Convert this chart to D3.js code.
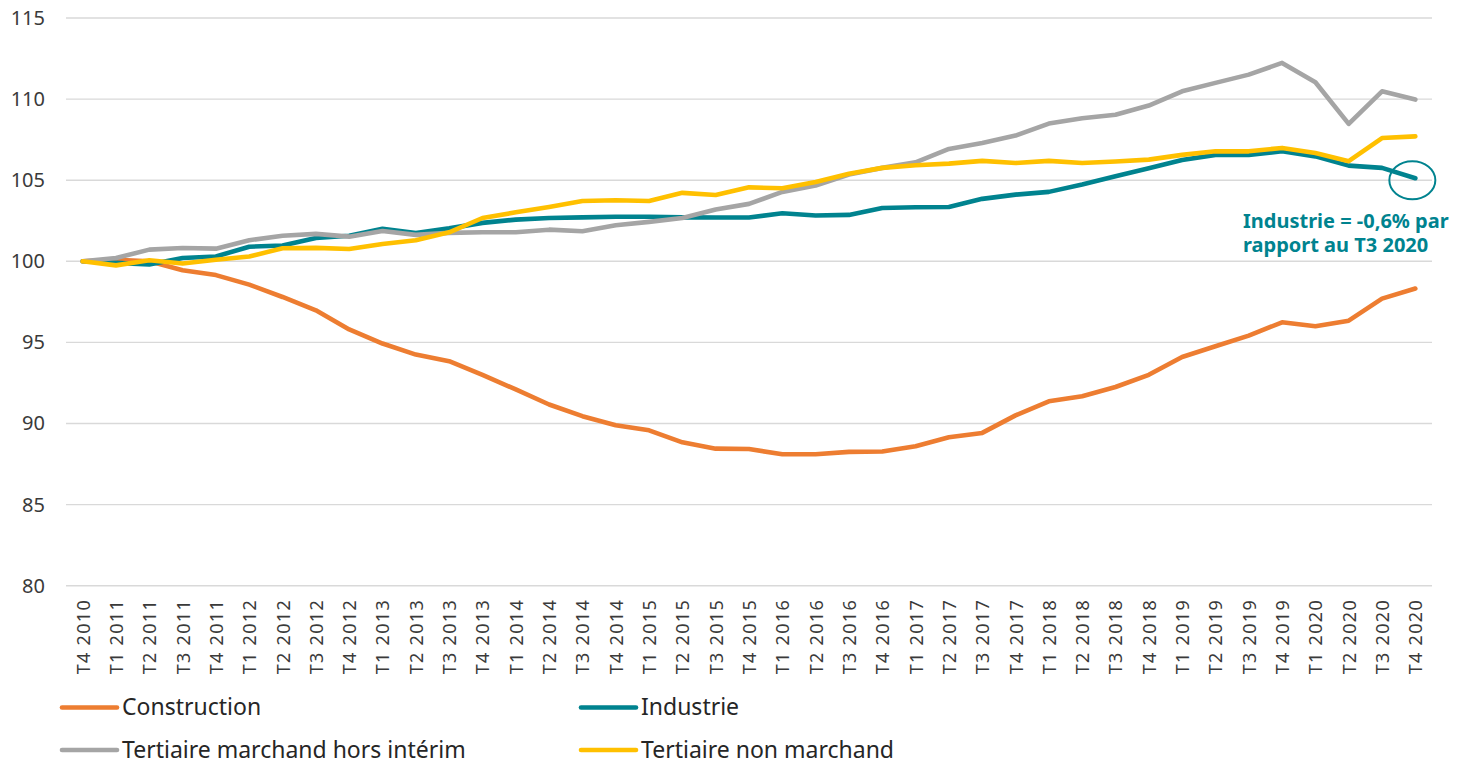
<!DOCTYPE html>
<html>
<head>
<meta charset="utf-8">
<script src="https://cdn.jsdelivr.net/npm/d3@7"></script>
<style>
  html, body { margin: 0; padding: 0; background: #ffffff; }
  svg { display: block; }
</style>
</head>
<body>
<svg id="chart" width="1460" height="765"></svg>
<script>
const categories = ["T4 2010",
  "T1 2011","T2 2011","T3 2011","T4 2011",
  "T1 2012","T2 2012","T3 2012","T4 2012",
  "T1 2013","T2 2013","T3 2013","T4 2013",
  "T1 2014","T2 2014","T3 2014","T4 2014",
  "T1 2015","T2 2015","T3 2015","T4 2015",
  "T1 2016","T2 2016","T3 2016","T4 2016",
  "T1 2017","T2 2017","T3 2017","T4 2017",
  "T1 2018","T2 2018","T3 2018","T4 2018",
  "T1 2019","T2 2019","T3 2019","T4 2019",
  "T1 2020","T2 2020","T3 2020","T4 2020"];

const construction = [100, 100.1, 100.0, 99.45, 99.15, 98.56, 97.8, 96.98, 95.8, 94.93, 94.25, 93.84, 93.0, 92.1, 91.17, 90.45, 89.89, 89.58, 88.84, 88.45, 88.43, 88.1, 88.1, 88.25, 88.27, 88.6, 89.15, 89.42, 90.5, 91.37, 91.68, 92.25, 93.0, 94.1, 94.76, 95.42, 96.24, 96.0, 96.34, 97.7, 98.32];
const industrie = [100, 99.9, 99.8, 100.2, 100.3, 100.9, 100.97, 101.44, 101.58, 102.0, 101.75, 102.03, 102.37, 102.57, 102.67, 102.71, 102.75, 102.75, 102.71, 102.7, 102.7, 102.96, 102.82, 102.86, 103.29, 103.33, 103.35, 103.85, 104.11, 104.28, 104.73, 105.24, 105.73, 106.25, 106.56, 106.56, 106.78, 106.47, 105.9, 105.76, 105.12];
const tertiaireMarchand = [100, 100.2, 100.72, 100.82, 100.78, 101.3, 101.58, 101.69, 101.52, 101.87, 101.63, 101.75, 101.79, 101.79, 101.95, 101.85, 102.22, 102.43, 102.67, 103.19, 103.54, 104.28, 104.67, 105.35, 105.76, 106.1, 106.93, 107.3, 107.75, 108.49, 108.82, 109.03, 109.6, 110.48, 111.0, 111.51, 112.23, 111.04, 108.47, 110.48, 109.97];
const tertiaireNonMarchand = [100, 99.75, 100.06, 99.86, 100.1, 100.3, 100.8, 100.83, 100.76, 101.07, 101.3, 101.79, 102.67, 103.02, 103.35, 103.72, 103.76, 103.72, 104.22, 104.09, 104.56, 104.5, 104.89, 105.4, 105.76, 105.92, 106.02, 106.19, 106.06, 106.19, 106.06, 106.15, 106.27, 106.56, 106.78, 106.78, 106.99, 106.68, 106.17, 107.6, 107.7];

const seriesNames = ["Construction", "Industrie", "Tertiaire marchand hors intérim", "Tertiaire non marchand"];
const seriesColors = ["#ED7D31", "#00838F", "#A5A5A5", "#FFC000"];
const yTicks = [80, 85, 90, 95, 100, 105, 110, 115];
const annotationLines = ["Industrie = -0,6% par", "rapport au T3 2020"];

const seriesValues = [construction, industrie, tertiaireMarchand, tertiaireNonMarchand];

const svg = d3.select("#chart");
const x = d3.scalePoint().domain(categories).range([66, 1432]).padding(0.5);
const y = d3.scaleLinear().domain([80, 115]).range([585.7, 18]);

// gridlines
svg.append("g").selectAll("line").data(yTicks).join("line")
  .attr("x1", 66).attr("x2", 1432)
  .attr("y1", d => y(d)).attr("y2", d => y(d))
  .attr("stroke", "#d9d9d9").attr("stroke-width", 1.4);

// y labels
const yAxis = d3.axisLeft(y).tickValues(yTicks).tickSize(0).tickPadding(0);
const gy = svg.append("g").attr("transform", "translate(45,0)").call(yAxis);
gy.select(".domain").remove();
gy.selectAll("text")
  .attr("font-family", "'Noto Sans', sans-serif")
  .attr("font-size", 20)
  .attr("fill", "#3a3a3a");

// x labels
const xAxis = d3.axisBottom(x).tickSize(0).tickPadding(0);
const gx = svg.append("g").attr("transform", "translate(0,599)").call(xAxis);
gx.select(".domain").remove();
gx.selectAll("text")
  .attr("font-family", "'Noto Sans', sans-serif")
  .attr("font-size", 18)
  .attr("letter-spacing", "1.3px")
  .attr("fill", "#3a3a3a")
  .attr("text-anchor", "end")
  .attr("transform", "rotate(-90)")
  .attr("x", 0).attr("y", 0).attr("dx", 0).attr("dy", "0.36em");

// lines
const line = d3.line().x((d, i) => x(categories[i])).y(d => y(d));
svg.append("g").selectAll("path").data(seriesValues).join("path")
  .attr("d", d => line(d))
  .attr("fill", "none")
  .attr("stroke", (d, i) => seriesColors[i])
  .attr("stroke-width", 4.6)
  .attr("stroke-linejoin", "round")
  .attr("stroke-linecap", "round");

// annotation
const lastCat = categories[categories.length - 1];
const lastVal = industrie[industrie.length - 1];
svg.append("ellipse")
  .attr("cx", x(lastCat) - 3)
  .attr("cy", y(lastVal) + 2)
  .attr("rx", 23).attr("ry", 19)
  .attr("fill", "none")
  .attr("stroke", seriesColors[1])
  .attr("stroke-width", 2);

svg.append("g").selectAll("text").data(annotationLines).join("text")
  .attr("x", 1243)
  .attr("y", (d, i) => 227.5 + i * 24.5)
  .attr("font-family", "'Noto Sans', sans-serif")
  .attr("font-weight", "bold")
  .attr("font-size", 20)
  .attr("fill", seriesColors[1])
  .text(d => d);

// legend
const legendPos = [[62, 707.5], [581, 707.5], [62, 750], [581, 750]];
const lg = svg.append("g").selectAll("g").data(seriesNames).join("g")
  .attr("transform", (d, i) => `translate(${legendPos[i][0]},${legendPos[i][1]})`);
lg.append("line")
  .attr("x1", 0).attr("x2", 55).attr("y1", 0).attr("y2", 0)
  .attr("stroke", (d, i) => seriesColors[i])
  .attr("stroke-width", 4.6)
  .attr("stroke-linecap", "round");
lg.append("text")
  .attr("x", 60).attr("y", 0).attr("dy", "0.34em")
  .attr("font-family", "'Noto Sans', sans-serif")
  .attr("font-size", 23)
  .attr("fill", "#262626")
  .text(d => d);
</script>
</body>
</html>
